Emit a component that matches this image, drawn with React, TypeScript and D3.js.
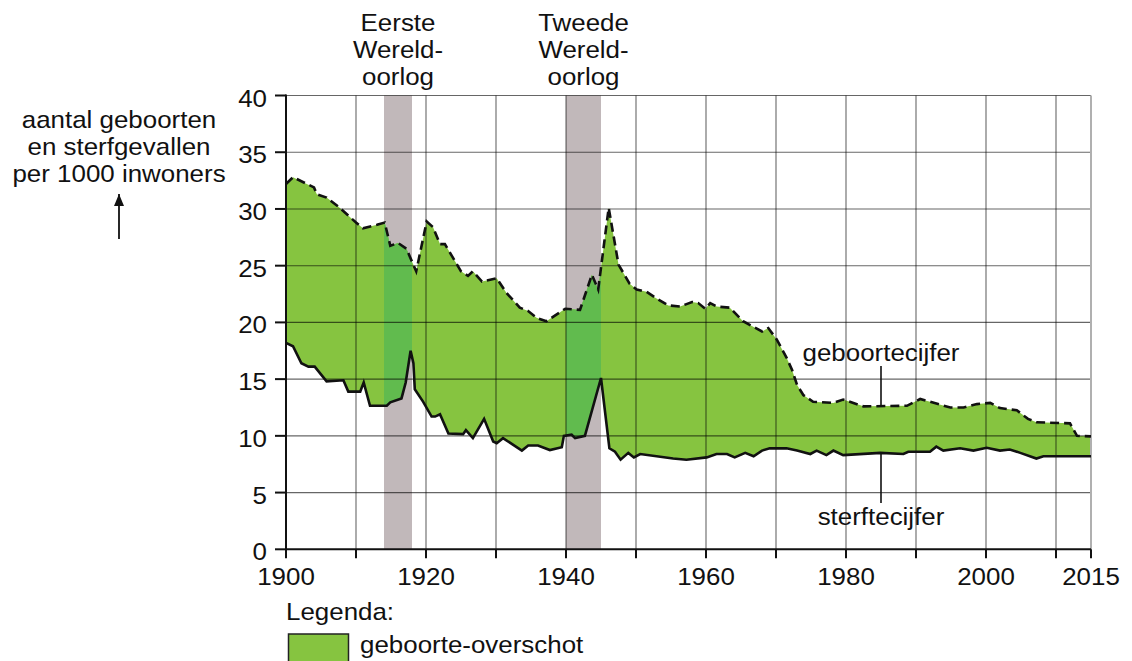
import React from "react";
import * as d3 from "d3";

// ---- data ----
const birthYears = [1900, 1901, 1904, 1904.4, 1905.8, 1907.5, 1910, 1911, 1913, 1914.1, 1914.9, 1916, 1917.2, 1918.6, 1920.1, 1921, 1922, 1922.7, 1925, 1926, 1926.7, 1928, 1930.1, 1931.5, 1933.4, 1934.6, 1935.8, 1937.2, 1939.9, 1942, 1943.7, 1944.6, 1946.1, 1947.5, 1949.1, 1950.1, 1951.5, 1952.7, 1954.6, 1956.3, 1958, 1958.9, 1959.9, 1960.6, 1961.5, 1963.4, 1965.3, 1968, 1968.9, 1970.1, 1971.5, 1972.3, 1973, 1973.9, 1975.3, 1978.2, 1979.6, 1982.5, 1988.7, 1990.6, 1994.9, 1996.8, 1998.7, 2000.6, 2002, 2004.4, 2006, 2007.2, 2012, 2013, 2015];
const birthRates = [32.2, 32.8, 31.9, 31.3, 31.0, 30.2, 28.8, 28.3, 28.6, 28.8, 26.75, 27.0, 26.5, 24.5, 28.9, 28.4, 26.9, 26.9, 24.5, 24.1, 24.5, 23.6, 23.9, 22.6, 21.3, 21.0, 20.4, 20.1, 21.2, 21.1, 24.2, 22.9, 30.1, 25.1, 23.4, 22.9, 22.7, 22.2, 21.5, 21.4, 21.8, 21.7, 21.2, 21.7, 21.4, 21.3, 20.1, 19.2, 19.5, 18.5, 16.9, 15.8, 14.5, 13.6, 13.0, 12.9, 13.2, 12.6, 12.65, 13.25, 12.5, 12.5, 12.8, 12.9, 12.45, 12.25, 11.5, 11.2, 11.1, 10.0, 9.95];

const deathYears = [1900, 1901, 1902.2, 1903.2, 1904.1, 1905.8, 1908.2, 1908.9, 1910.6, 1911.1, 1912, 1914.4, 1914.9, 1916.5, 1917.1, 1917.8, 1918.2, 1918.4, 1919.6, 1920.8, 1921.3, 1922, 1923.2, 1925.3, 1925.7, 1926.7, 1928.3, 1929.6, 1930.1, 1931, 1933.7, 1934.6, 1936, 1937.7, 1939.4, 1939.7, 1940.8, 1941.3, 1942.7, 1945, 1946.2, 1947, 1947.8, 1948.9, 1949.7, 1950.6, 1955.3, 1957.2, 1960.1, 1961.5, 1963, 1964.1, 1965.6, 1966.8, 1968, 1969.1, 1971.5, 1973, 1974.9, 1975.8, 1977.2, 1978.2, 1979.6, 1984.9, 1988.2, 1988.9, 1992, 1992.9, 1993.9, 1996.3, 1998.2, 2000.1, 2002, 2003.4, 2004.9, 2007.2, 2008.2, 2010.1, 2015];
const deathRates = [18.2, 17.9, 16.4, 16.1, 16.1, 14.8, 14.9, 13.9, 13.9, 14.7, 12.65, 12.65, 12.95, 13.3, 14.7, 17.5, 16.4, 14.1, 13.0, 11.7, 11.7, 11.9, 10.2, 10.15, 10.5, 9.8, 11.5, 9.5, 9.35, 9.8, 8.7, 9.15, 9.15, 8.75, 9.0, 10.0, 10.1, 9.8, 10.0, 15.1, 8.9, 8.6, 7.9, 8.5, 8.1, 8.4, 8.0, 7.9, 8.1, 8.4, 8.4, 8.1, 8.5, 8.2, 8.7, 8.9, 8.9, 8.7, 8.4, 8.7, 8.3, 8.7, 8.3, 8.5, 8.4, 8.6, 8.6, 9.05, 8.7, 8.9, 8.7, 8.95, 8.7, 8.8, 8.5, 8.0, 8.2, 8.2, 8.2];

const warStarts = [1914, 1940];
const warEnds = [1918, 1945];
const warLabels = [
  ["Eerste", "Wereld-", "oorlog"],
  ["Tweede", "Wereld-", "oorlog"],
];

const yTicks = [0, 5, 10, 15, 20, 25, 30, 35, 40];
const xTicks = [1900, 1910, 1920, 1930, 1940, 1950, 1960, 1970, 1980, 1990, 2000, 2010, 2015];
const xLabels = [1900, 1920, 1940, 1960, 1980, 2000, 2015];
const yTitle = ["aantal geboorten", "en sterfgevallen", "per 1000 inwoners"];
const birthLabel = "geboortecijfer";
const deathLabel = "sterftecijfer";
const labelYear = 1985;
const legendTitle = "Legenda:";
const legendItem = "geboorte-overschot";

// ---- styling ----
const FONT = "'Liberation Sans', Arial, Helvetica, sans-serif";
const FS = 24;
const SX = 1.08;
const GREEN = "#86c440";
const GREEN_WAR = "#61bb4e";
const BAND = "#c1b8ba";

function T({ x, y, anchor = "middle", children }: { x: number; y: number; anchor?: string; children: React.ReactNode }) {
  return (
    <text
      transform={`translate(${x},${y}) scale(${SX},1)`}
      textAnchor={anchor}
      fontFamily={FONT}
      fontSize={FS}
      fill="#111"
    >
      {children}
    </text>
  );
}

export default function App() {
  const x = d3.scaleLinear().domain([1900, 2015]).range([286, 1091]);
  const y = d3.scaleLinear().domain([0, 40]).range([549.3, 95.5]);

  const birthPts: [number, number][] = birthYears.map((yr, i) => [x(yr), y(birthRates[i])]);
  const deathPts: [number, number][] = deathYears.map((yr, i) => [x(yr), y(deathRates[i])]);
  const line = d3.line<[number, number]>().x((d) => d[0]).y((d) => d[1]);
  const areaPath = line([...birthPts, ...deathPts.slice().reverse()]) + "Z";
  const birthPath = line(birthPts) || "";
  const deathPath = line(deathPts) || "";

  const x0 = x(1900), x1 = x(2015), yTop = y(40), yBot = y(0);
  const birthAt = d3.scaleLinear().domain(birthYears).range(birthRates);
  const deathAt = d3.scaleLinear().domain(deathYears).range(deathRates);
  const lx = x(labelYear);

  return (
    <svg width={1132} height={661} style={{ position: "absolute", left: 0, top: 0, background: "#fff" }}>
      <defs>
        <clipPath id="areaClip">
          <path d={areaPath} />
        </clipPath>
        <marker id="arrowHead" viewBox="0 0 12 10" refX="12" refY="5" markerWidth="12" markerHeight="10" orient="auto" markerUnits="userSpaceOnUse">
          <path d="M0,0 L12,5 L0,10 Z" fill="#111" />
        </marker>
      </defs>

      {/* war bands */}
      {warStarts.map((s, i) => (
        <rect key={"band" + i} x={x(s)} y={yTop} width={x(warEnds[i]) - x(s)} height={yBot - yTop} fill={BAND} />
      ))}

      {/* birth surplus area */}
      <path d={areaPath} fill={GREEN} />
      <g clipPath="url(#areaClip)">
        {warStarts.map((s, i) => (
          <rect key={"bandg" + i} x={x(s)} y={yTop} width={x(warEnds[i]) - x(s)} height={yBot - yTop} fill={GREEN_WAR} />
        ))}
      </g>

      {/* grid */}
      <g stroke="#000" strokeOpacity={0.6} strokeWidth={1.1}>
        {yTicks.filter((t) => t > 0).map((t) => (
          <line key={"gy" + t} x1={x0} x2={x1} y1={y(t)} y2={y(t)} />
        ))}
        {xTicks.filter((t) => t > 1900 && t < 2015).map((t) => (
          <line key={"gx" + t} x1={x(t)} x2={x(t)} y1={yTop} y2={yBot} />
        ))}
      </g>
      <line x1={x1} x2={x1} y1={yTop} y2={yBot} stroke="#b0b0b0" strokeWidth={2} />

      {/* lines */}
      <path d={deathPath} fill="none" stroke="#111" strokeWidth={2.6} strokeLinejoin="miter" />
      <path d={birthPath} fill="none" stroke="#111" strokeWidth={2.6} strokeDasharray="9,5" />

      {/* axes */}
      <g stroke="#111" strokeWidth={2}>
        <line x1={x0} x2={x0} y1={yTop - 1} y2={yBot + 1} />
        <line x1={x0 - 1} x2={x1} y1={yBot} y2={yBot} />
        {yTicks.map((t) => (
          <line key={"ty" + t} x1={x0 - 11} x2={x0} y1={y(t)} y2={y(t)} />
        ))}
        {xTicks.map((t) => (
          <line key={"tx" + t} x1={x(t)} x2={x(t)} y1={yBot} y2={yBot + 9} />
        ))}
      </g>
      {yTicks.map((t) => (
        <T key={"ly" + t} x={x0 - 19} y={y(t) + 11} anchor="end">{t}</T>
      ))}
      {xLabels.map((t) => (
        <T key={"lx" + t} x={x(t)} y={585}>{t}</T>
      ))}

      {/* y title */}
      {yTitle.map((s, i) => (
        <T key={"yt" + i} x={119} y={128 + i * 27}>{s}</T>
      ))}
      <line x1={119} x2={119} y1={239} y2={194} stroke="#111" strokeWidth={1.8} markerEnd="url(#arrowHead)" />

      {/* war labels */}
      {warStarts.map((s, i) =>
        warLabels[i].map((l, j) => (
          <T key={"wl" + i + j} x={(x(s) + x(warEnds[i])) / 2} y={31 + j * 27}>{l}</T>
        ))
      )}

      {/* series labels */}
      <T x={lx} y={361}>{birthLabel}</T>
      <line x1={lx} x2={lx} y1={366} y2={y(birthAt(labelYear))} stroke="#111" strokeWidth={1.6} />
      <line x1={lx} x2={lx} y1={y(deathAt(labelYear))} y2={503} stroke="#111" strokeWidth={1.6} />
      <T x={lx} y={525}>{deathLabel}</T>

      {/* legend */}
      <T x={286} y={620} anchor="start">{legendTitle}</T>
      <rect x={288.5} y={634} width={60} height={32} fill={GREEN} stroke="#222" strokeWidth={1.5} />
      <T x={360} y={653} anchor="start">{legendItem}</T>
    </svg>
  );
}
